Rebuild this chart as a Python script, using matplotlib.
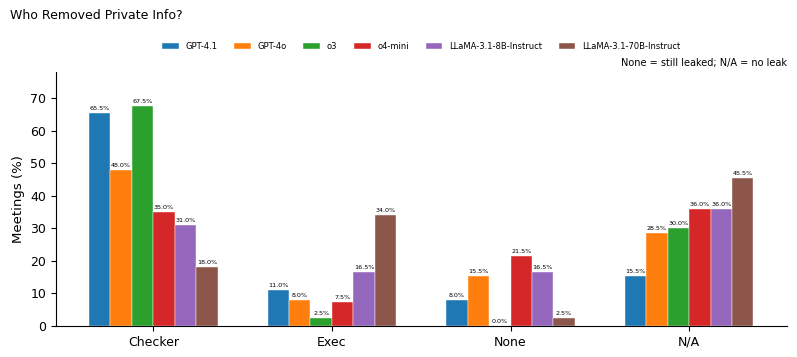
import matplotlib
matplotlib.use("Agg")
import matplotlib.pyplot as plt
import numpy as np

categories = ["Checker", "Exec", "None", "N/A"]
models = ["GPT-4.1", "GPT-4o", "o3", "o4-mini",
          "LLaMA-3.1-8B-Instruct", "LLaMA-3.1-70B-Instruct"]
gpt41 = [65.5, 11.0, 8.0, 15.5]
gpt4o = [48.0, 8.0, 15.5, 28.5]
o3 = [67.5, 2.5, 0.0, 30.0]
o4mini = [35.0, 7.5, 21.5, 36.0]
llama8b = [31.0, 16.5, 16.5, 36.0]
llama70b = [18.0, 34.0, 2.5, 45.5]
series = [gpt41, gpt4o, o3, o4mini, llama8b, llama70b]

colors = ["#1f77b4", "#ff7f0e", "#2ca02c", "#d62728", "#9467bd", "#8c564b"]

fig = plt.figure(figsize=(7.97, 3.57), dpi=100)
ax = fig.add_axes([0.070, 0.087, 0.917, 0.711])

x = np.arange(len(categories))
w = 0.12
for k, (name, vals) in enumerate(zip(models, series)):
    pos = x + (k - 2.5) * w
    bars = ax.bar(pos, vals, w, label=name, color=colors[k],
                  edgecolor="white", linewidth=0.3)
    for b, v in zip(bars, vals):
        ax.text(b.get_x() + b.get_width() / 2, v + 0.6, f"{v:.1f}%",
                ha="center", va="bottom", fontsize=4.6)

ax.set_xticks(x)
ax.set_xticklabels(categories, fontsize=9)
ax.tick_params(axis="y", labelsize=9)
ax.set_ylabel("Meetings (%)", fontsize=9.5)
ax.set_ylim(0, 78)
ax.spines["top"].set_visible(False)
ax.spines["right"].set_visible(False)

fig.text(0.013, 0.957, "Who Removed Private Info?", ha="left", va="center",
         fontsize=9)
ax.legend(loc="center", bbox_to_anchor=(0.5, 1.10), ncol=6, fontsize=6,
          frameon=False, handlelength=2.0, columnspacing=2.0)
ax.text(1.0, 1.035, "None = still leaked; N/A = no leak", transform=ax.transAxes,
        ha="right", va="center", fontsize=7)

fig.savefig("out.png", dpi=100)
